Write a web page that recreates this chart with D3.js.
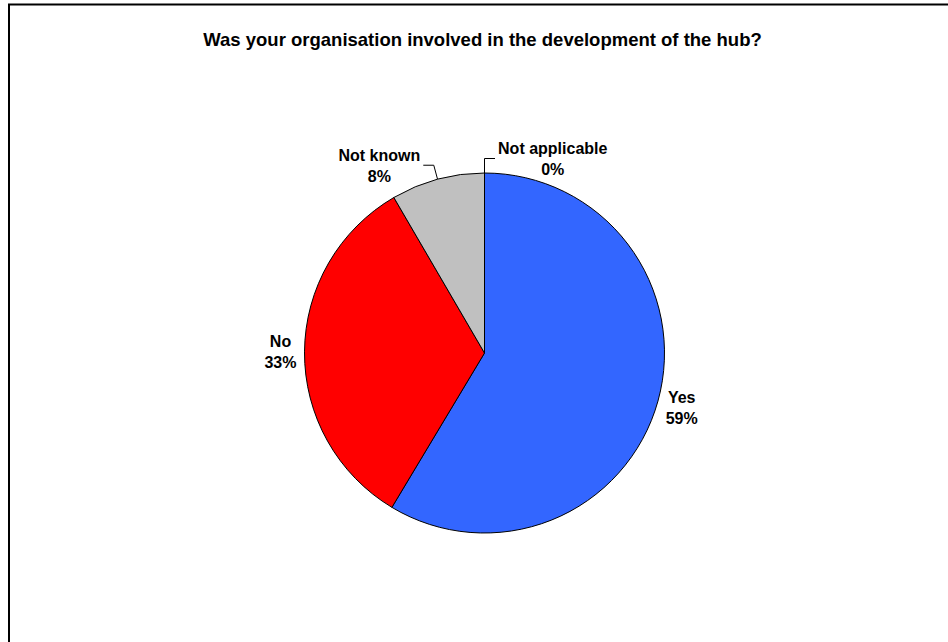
<!DOCTYPE html>
<html>
<head>
<meta charset="utf-8">
<script src="https://cdn.jsdelivr.net/npm/d3@7"></script>
<style>
  html, body { margin: 0; padding: 0; background: #fff; }
  svg { display: block; }
  text { font-family: "Liberation Sans", Arial, Helvetica, sans-serif; font-weight: bold; fill: #000; }
</style>
</head>
<body>
<script>
const title = "Was your organisation involved in the development of the hub?";
const categories = ["Yes", "No", "Not known", "Not applicable"];
const values = [58.6, 33.0, 8.4, 0];
const colors = ["#3366FF", "#FF0000", "#C0C0C0", "#FFFFFF"];

const W = 948, H = 642;
const cx = 484.5, cy = 353, R = 180;

const svg = d3.select("body").append("svg").attr("width", W).attr("height", H);

// frame (only top and left edges are visible in the picture)
svg.append("rect")
  .attr("x", 9).attr("y", 4.5).attr("width", 1000).attr("height", 700)
  .attr("fill", "none").attr("stroke", "#000").attr("stroke-width", 2);

svg.append("text")
  .attr("x", 482.5).attr("y", 46)
  .attr("text-anchor", "middle")
  .style("font-size", "18.5px")
  .text(title);

const data = categories.map((c, i) => ({ name: c, value: values[i], color: colors[i] }));
const pie = d3.pie().sort(null).value(d => d.value).startAngle(0).endAngle(2 * Math.PI);
const arcs = pie(data);
const arc = d3.arc().innerRadius(0).outerRadius(R);

const g = svg.append("g").attr("transform", `translate(${cx},${cy})`);
g.selectAll("path.slice").data(arcs).enter().append("path")
  .attr("class", "slice")
  .attr("d", arc)
  .attr("fill", d => d.data.color)
  .attr("stroke", "#000")
  .attr("stroke-width", 1)
  .attr("stroke-linejoin", "round");

const fs = 16, lh = 21;
arcs.forEach(a => {
  const mid = (a.startAngle + a.endAngle) / 2;
  const ux = Math.sin(mid), uy = -Math.cos(mid);
  const ex = ux * R, ey = uy * R;
  const lines = [a.data.name, Math.round(a.data.value) + "%"];
  const t = g.append("text").attr("text-anchor", "middle").style("font-size", fs + "px");
  lines.forEach((l, i) => t.append("tspan").attr("x", 0).attr("dy", i === 0 ? 0 : lh).text(l));
  const bw = t.node().getBBox().width;
  const hw = bw / 2;
  const pct = a.data.value;
  let bx, byc;
  if (pct < 10) {
    // leader line
    const dir = (mid > Math.PI && mid < 2 * Math.PI - 1e-6) ? -1 : 1;
    const L = 14.5;
    const kx = ex + ux * L, ky = ey + uy * L;
    const hx = kx + dir * 10.5;
    g.append("path")
      .attr("d", `M${ex},${ey}L${kx},${ky}L${hx},${ky}`)
      .attr("fill", "none").attr("stroke", "#000").attr("stroke-width", 1);
    bx = hx + dir * (3 + hw);
    byc = ky;
  } else {
    const gap = 8;
    const sx = ux >= 0 ? 1 : -1;
    bx = ex + ux * gap + sx * hw;
    byc = ey + uy * gap + uy * 17;
  }
  t.attr("transform", `translate(${bx},${byc - 4.5})`);
});
</script>
</body>
</html>
